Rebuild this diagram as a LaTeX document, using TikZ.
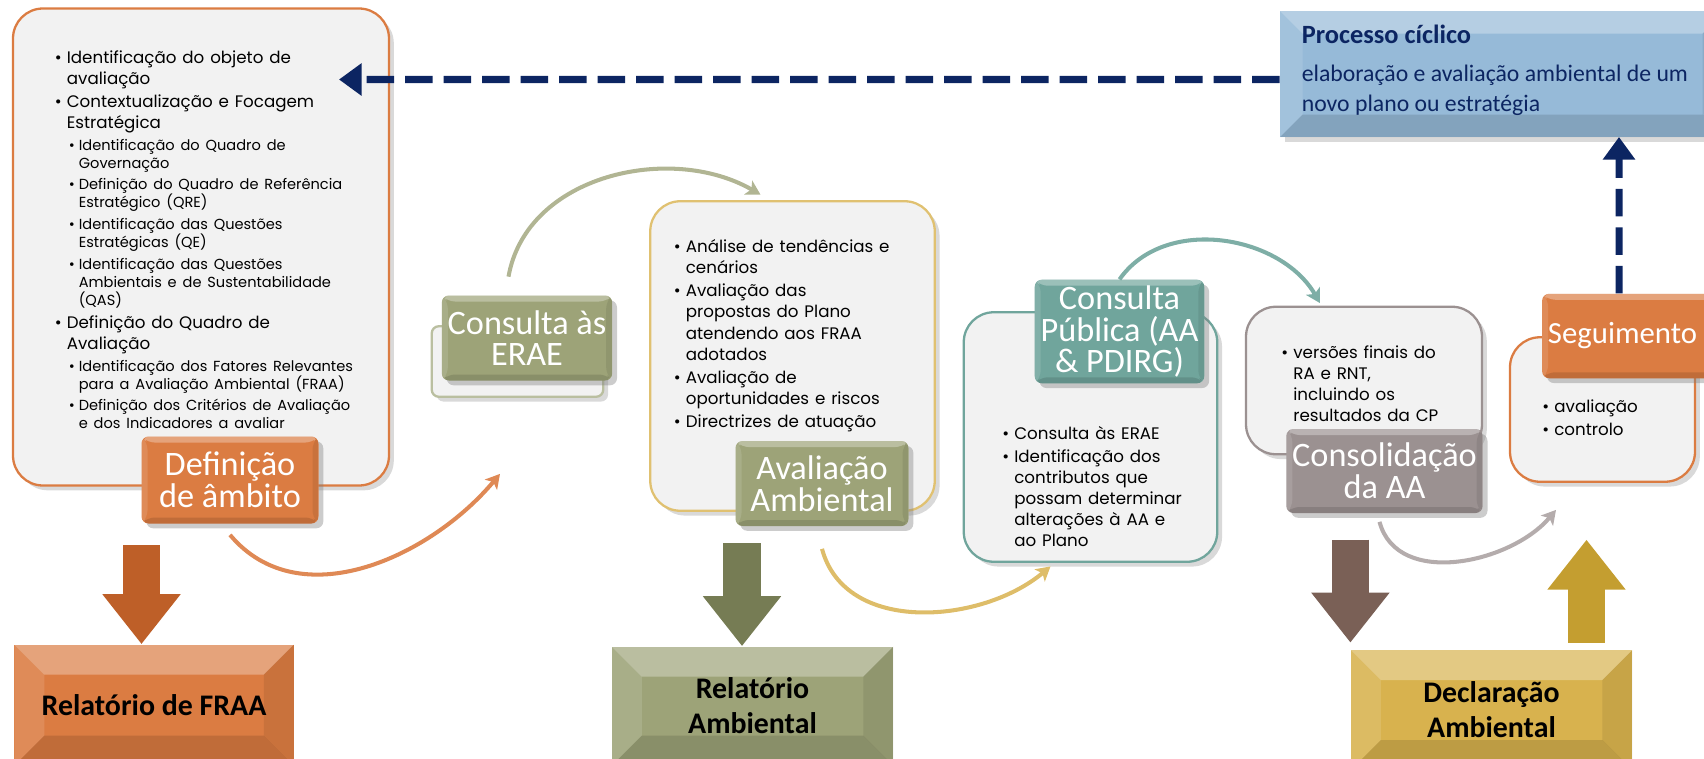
\documentclass[tikz,border=0pt]{standalone}
\usepackage{fontspec}
\setmainfont{Poppins}
\newfontfamily\tagfont{Carlito}
\usepackage{tikz}
\usetikzlibrary{arrows.meta,shapes,positioning,shadows,calc}
\usepackage{xcolor}
\definecolor{aaorange}{RGB}{219,124,66}
\definecolor{aaorangedk}{RGB}{190,95,40}
\definecolor{aaolive}{RGB}{157,163,120}
\definecolor{aaolivedk}{RGB}{118,124,84}
\definecolor{aateal}{RGB}{112,165,156}
\definecolor{aamauve}{RGB}{155,145,145}
\definecolor{aabrown}{RGB}{122,96,86}
\definecolor{aagold}{RGB}{216,178,78}
\definecolor{aagolddk}{RGB}{196,158,48}
\definecolor{aablue}{RGB}{150,186,216}
\definecolor{aanavy}{RGB}{12,37,98}
\definecolor{aapanel}{RGB}{242,242,242}

\newcommand{\mainpt}{\fontsize{9.5}{12}\selectfont}
\newcommand{\subpt}{\fontsize{8.3}{10.2}\selectfont}
\newcommand{\mitem}[1]{\par\setlength{\parskip}{1.2pt}\leftskip=0pt\mainpt\hangindent=0.24cm\hangafter=1\noindent\makebox[0.24cm][l]{\textbullet}#1}
\newcommand{\sitem}[1]{\par\setlength{\parskip}{2.2pt}\leftskip=0.28cm\subpt\hangindent=0.2cm\hangafter=1\noindent\makebox[0.2cm][l]{\textbullet}#1}

\tikzset{bevel/.style={path picture={
  \fill[white,opacity=0.3] (path picture bounding box.north west) -- (path picture bounding box.north east) -- ([shift={(-#1,-#1)}]path picture bounding box.north east) -- ([shift={(#1,-#1)}]path picture bounding box.north west) -- cycle;
  \fill[white,opacity=0.12] (path picture bounding box.north west) -- (path picture bounding box.south west) -- ([shift={(#1,#1)}]path picture bounding box.south west) -- ([shift={(#1,-#1)}]path picture bounding box.north west) -- cycle;
  \fill[black,opacity=0.08] (path picture bounding box.north east) -- (path picture bounding box.south east) -- ([shift={(-#1,#1)}]path picture bounding box.south east) -- ([shift={(-#1,-#1)}]path picture bounding box.north east) -- cycle;
  \fill[black,opacity=0.12] (path picture bounding box.south west) -- (path picture bounding box.south east) -- ([shift={(-#1,#1)}]path picture bounding box.south east) -- ([shift={(#1,#1)}]path picture bounding box.south west) -- cycle;
}}}
\tikzstyle{panel} = [rectangle, rounded corners=0.6cm, fill=aapanel, line width=1.3pt, drop shadow={opacity=0.3}]
\tikzstyle{tagbox} = [rectangle, rounded corners=4pt, text=white, align=center, font=\tagfont\fontsize{19.5}{18}\selectfont, drop shadow={opacity=0.4}, bevel=0.12cm]
\tikzstyle{report} = [rectangle, text=black, align=center, font=\tagfont\bfseries\fontsize{17}{20}\selectfont, bevel=0.6cm]
\tikzstyle{bullets} = [anchor=north west, align=left, inner sep=0pt]
\tikzstyle{loop} = [line width=2.3pt, -{Stealth[length=8pt,width=9pt,inset=2pt]}]
\tikzstyle{dasharrow} = [draw=aanavy, line width=4pt, dash pattern=on 0.55cm off 0.22cm, -{Triangle[length=0.45cm,width=0.62cm]}]
\tikzstyle{blockarrow} = [line width=0.75cm, -{Triangle[length=1.0cm,width=1.5cm]}]

\begin{document}
\begin{tikzpicture}
\useasboundingbox (0,0) rectangle (34.08,-15.18);

% Content panels
\node[panel, draw=aaorange, minimum width=7.52cm, minimum height=9.54cm] (defbox) at (4.02,-4.94) {};
\node[panel, draw=aaolive!70, rounded corners=4pt, minimum width=3.43cm, minimum height=1.41cm] (eraeb) at (10.35,-7.23) {};
\node[panel, draw=aagold!80, minimum width=5.69cm, minimum height=6.19cm] (avbox) at (15.85,-7.12) {};
\node[panel, draw=aateal, minimum width=5.07cm, minimum height=4.99cm] (cpbox) at (21.81,-8.74) {};
\node[panel, draw=aamauve, minimum width=4.72cm, minimum height=2.95cm] (conbox) at (27.28,-7.61) {};
\node[panel, draw=aaorange, minimum width=3.7cm, minimum height=2.89cm] (segbox) at (32.05,-8.19) {};

% Panel texts
\node[bullets, text width=7cm] (deftext) at (1.09,-0.79) {%
\mitem{Identificação do objeto de\newline avaliação}
\mitem{Contextualização e Focagem\newline Estratégica}
\sitem{Identificação do Quadro de\newline Governação}
\sitem{Definição do Quadro de Referência\newline Estratégico (QRE)}
\sitem{Identificação das Questões\newline Estratégicas (QE)}
\sitem{Identificação das Questões\newline Ambientais e de Sustentabilidade\newline (QAS)}
\mitem{Definição do Quadro de\newline Avaliação}
\sitem{Identificação dos Fatores Relevantes\newline para a Avaliação Ambiental (FRAA)}
\sitem{Definição dos Critérios de Avaliação\newline e dos Indicadores a avaliar}\par};
\node[bullets, text width=5.2cm] (avtext) at (13.47,-4.58) {%
\mitem{Análise de tendências e\newline cenários}
\mitem{Avaliação das\newline propostas do Plano\newline atendendo aos FRAA\newline adotados}
\mitem{Avaliação de\newline oportunidades e riscos}
\mitem{Directrizes de atuação}\par};
\node[bullets, text width=4.2cm] (cptext) at (20.04,-8.31) {%
\mitem{Consulta às ERAE}
\mitem{Identificação dos\newline contributos que\newline possam determinar\newline alterações à AA e\newline ao Plano}\par};
\node[bullets, text width=4cm] (context) at (25.62,-6.69) {%
\mitem{versões finais do\newline RA e RNT,\newline incluindo os\newline resultados da CP}\par};
\node[bullets, text width=3cm] (segtext) at (30.84,-7.78) {%
\mitem{avaliação}
\mitem{controlo}\par};

% Stage labels
\node[tagbox, fill=aaorange, minimum width=3.54cm, minimum height=1.74cm] (defl) at (4.6,-9.6) {Definição\\de âmbito};
\node[tagbox, fill=aaolive, minimum width=3.34cm, minimum height=1.7cm] (erae) at (10.54,-6.76) {Consulta às\\ERAE};
\node[tagbox, fill=aaolive, minimum width=3.46cm, minimum height=1.7cm] (avl) at (16.44,-9.67) {Avaliação\\Ambiental};
\node[tagbox, fill=aateal, minimum width=3.39cm, minimum height=2.04cm] (cpl) at (22.39,-6.63) {Consulta\\Pública (AA\\\& PDIRG)};
\node[tagbox, fill=aamauve, minimum width=3.73cm, minimum height=1.68cm] (conl) at (27.69,-9.42) {Consolidação\\da AA};
\node[tagbox, fill=aaorange, minimum width=3.74cm, minimum height=1.69cm, font=\tagfont\fontsize{17.5}{18}\selectfont] (segl) at (32.73,-6.72) {Seguimento\hspace*{0.56cm}};

% Cyclic process
\node[rectangle, fill=aablue, bevel=0.45cm, drop shadow={opacity=0.3}, minimum width=8.9cm, minimum height=2.52cm] (procbox) at (30.05,-1.48) {};
\node[anchor=north west, align=left, text=aanavy, font=\tagfont\fontsize{13.5}{16.7}\selectfont, inner sep=0pt] (proctext) at (26.03,-0.5) {\textbf{\fontsize{15}{16}\selectfont Processo cíclico}\\[5pt]elaboração e avaliação ambiental de um\\novo plano ou estratégia};

% Outputs
\node[report, fill=aaorange, minimum width=5.59cm, minimum height=2.42cm] (fraa) at (3.08,-14.1) {Relatório de FRAA};
\node[report, fill=aaolive, minimum width=5.63cm, minimum height=2.38cm] (ramb) at (15.05,-14.12) {Relatório\\Ambiental};
\node[report, fill=aagold, minimum width=5.63cm, minimum height=2.4cm] (decl) at (29.83,-14.2) {Declaração\\Ambiental};

% Loop arrows between stages
\draw[loop, aaorange!90] ([yshift=-0.22cm]defl.south) to[out=-50,in=230] ([shift={(-0.35,-1.52)}]eraeb.south);
\draw[loop, aaolive!80] ([shift={(-0.37,0.37)}]erae.north) to[out=80,in=150] ([shift={(-0.64,0.11)}]avbox.north);
\draw[loop, aagold!85] ([yshift=-0.45cm]avl.south) to[out=-75,in=220] ([shift={(-0.8,-0.07)}]cpbox.south);
\draw[loop, aateal!90] (cpl.north) to[out=55,in=120] ([shift={(-0.88,0.05)}]conbox.north);
\draw[loop, aamauve!75] ([shift={(-0.1,-0.17)}]conl.south) to[out=-75,in=230] ([shift={(-0.93,-0.54)}]segbox.south);

% Block arrows to outputs
\draw[blockarrow, aaorangedk] ([shift={(-0.25,1.98)}]fraa.north) -- ([xshift=-0.25cm]fraa.north);
\draw[blockarrow, aaolivedk] ([shift={(-0.21,2.06)}]ramb.north) -- ([xshift=-0.21cm]ramb.north);
\draw[blockarrow, aabrown] ([yshift=2.2cm]decl.north west) -- ([yshift=0.14cm]decl.north west);
\draw[blockarrow, aagolddk] ([shift={(1.9,0.14)}]decl.north) -- ([shift={(1.9,2.2)}]decl.north);

% Back to a new cycle
\coordinate (newcycle) at (6.78,-1.59);
\coordinate (uptop) at (32.38,-2.74);
\draw[dasharrow] ([yshift=-0.11cm]procbox.west) -- (newcycle);
\draw[dasharrow] ([xshift=-0.35cm]segl.north) -- (uptop);
\end{tikzpicture}
\end{document}
